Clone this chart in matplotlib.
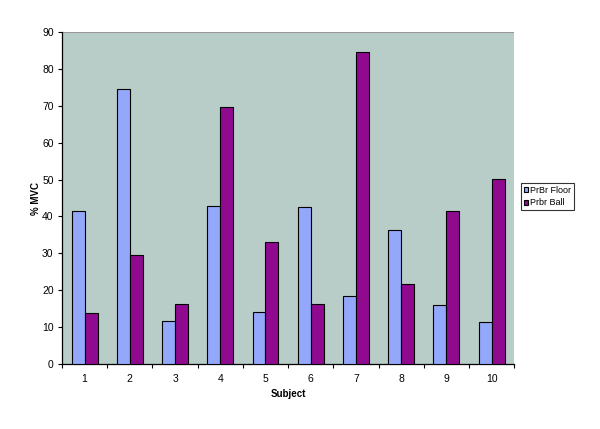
import matplotlib
matplotlib.use("Agg")
import matplotlib.pyplot as plt
import numpy as np

subjects = ["1", "2", "3", "4", "5", "6", "7", "8", "9", "10"]
prbr_floor = [41.5, 74.5, 11.6, 42.8, 14.0, 42.6, 18.5, 36.4, 16.0, 11.4]
prbr_ball = [13.8, 29.6, 16.3, 69.6, 33.0, 16.2, 84.6, 21.7, 41.6, 50.2]
yticks = [0, 10, 20, 30, 40, 50, 60, 70, 80, 90]

plt.rcParams['font.family'] = ['Liberation Sans', 'DejaVu Sans']

fig = plt.figure(figsize=(6.0, 4.29), dpi=100)
ax = fig.add_axes([0.1033, 0.1515, 0.7537, 0.7739])
ax.set_facecolor('#b8ccc8')

x = np.arange(1, len(subjects) + 1)
w = 1 / 3.5
ax.bar(x - w, prbr_floor, width=w, align='edge', color='#93a8fa',
       edgecolor='black', linewidth=0.8, label='PrBr Floor', zorder=3)
ax.bar(x, prbr_ball, width=w, align='edge', color='#900a90',
       edgecolor='black', linewidth=0.8, label='Prbr Ball', zorder=3)

ax.set_xlim(0.5, len(subjects) + 0.5)
ax.set_ylim(0, 90)
ax.set_yticks(yticks)
ax.set_yticklabels([str(t) for t in yticks], fontsize=7.5)
ax.set_xticks(x)
ax.set_xticklabels(subjects, fontsize=7.5)
ax.set_xticks(np.arange(0.5, len(subjects) + 1, 1), minor=True)
ax.tick_params(axis='x', which='major', length=0, pad=7)
ax.tick_params(axis='x', which='minor', length=3, width=0.8, direction='out')
ax.tick_params(axis='y', length=3, width=0.8, direction='out', pad=3)

for s in ['top', 'right']:
    ax.spines[s].set_visible(False)
ax.spines['left'].set_linewidth(0.9)
ax.spines['bottom'].set_linewidth(0.9)
ax.axhline(90, color='#999999', linewidth=0.8, zorder=1)

ax.set_xlabel('Subject', fontsize=7, fontweight='bold', labelpad=4)
ax.set_ylabel('% MVC', fontsize=7, fontweight='bold', labelpad=1)

leg = ax.legend(loc='upper left', bbox_to_anchor=(1.015, 0.545), fontsize=6.5,
                frameon=True, fancybox=False, edgecolor='black',
                handlelength=0.5, handleheight=0.5, handletextpad=0.25,
                borderpad=0.3, labelspacing=0.4, borderaxespad=0)
leg.get_frame().set_linewidth(0.8)

fig.savefig('out.png', dpi=100)
